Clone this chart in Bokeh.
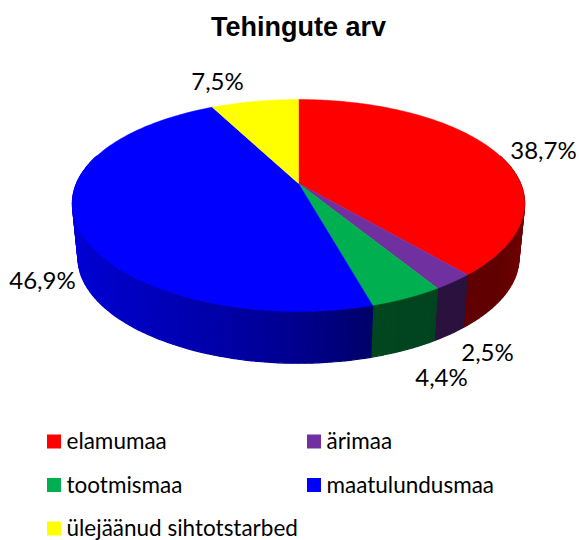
import numpy as np
from bokeh.plotting import figure
from bokeh.models import Range1d
from bokeh.core.properties import value
from bokeh.embed import file_html
from bokeh.resources import INLINE

title = "Tehingute arv"
categories = ["elamumaa", "ärimaa", "tootmismaa", "maatulundusmaa", "ülejäänud sihtotstarbed"]
shares = [38.7, 2.5, 4.4, 46.9, 7.5]
labels = ["38,7%", "2,5%", "4,4%", "46,9%", "7,5%"]
colors = ["#FF0000", "#7030A0", "#00B050", "#0000FF", "#FFFF00"]

# label and legend placement (page pixels)
label_x = [543, 487, 441, 42, 217]
label_y = [149, 351, 376, 279, 80]
legend_col = [0, 1, 0, 1, 0]
legend_row = [0, 0, 1, 1, 2]

# projection of the tilted disc
CX, APEX_TOP, APEX_BOT = 298.0, 183.0, 238.0
KX, KY, B, A = 0.19, 0.2075, 101.4, 222.0
BOT_SCALE = 0.975


def project(theta, bottom=False):
    u, v = np.sin(theta), np.cos(theta)
    x, y = A * u / (1 + KX * v), -B * v / (1 + KY * v)
    if bottom:
        return CX + BOT_SCALE * x, APEX_BOT + BOT_SCALE * y
    return CX + x, APEX_TOP + y


def shade(hex_color, theta):
    f = float(np.interp(np.sin(theta), [-1, -0.5, 0, 0.3, 0.8, 1], [0.85, 0.72, 0.56, 0.40, 0.38, 0.46]))
    r, g, b = (int(hex_color[i:i + 2], 16) for i in (1, 3, 5))
    return "#%02x%02x%02x" % (int(r * f), int(g * f), int(b * f))


p = figure(width=579, height=540, output_backend="svg", toolbar_location=None,
           x_range=Range1d(0, 579), y_range=Range1d(540, 0), min_border=0)
p.axis.visible = False
p.grid.visible = False
p.outline_line_color = None
p.background_fill_color = "#ffffff"

edges = np.concatenate([[0], np.cumsum(shares)]) / sum(shares) * 2 * np.pi

# side wall
sx, sy, sc = [], [], []
for i, col in enumerate(colors):
    n = max(3, int((edges[i + 1] - edges[i]) * 40))
    t = np.linspace(edges[i], edges[i + 1], n + 1)
    for a, b in zip(t[:-1], t[1:]):
        if np.cos((a + b) / 2) > 0.3:
            continue
        x0, y0 = project(a)
        x1, y1 = project(b)
        x2, y2 = project(b, True)
        x3, y3 = project(a, True)
        sx.append([x0, x1, x2, x3])
        sy.append([y0, y1, y2, y3])
        sc.append(shade(col, (a + b) / 2))
p.patches(sx, sy, fill_color=sc, line_color=sc, line_width=1.2)

# top face
for i, col in enumerate(colors):
    t = np.linspace(edges[i], edges[i + 1], 160)
    x, y = project(t)
    p.patch(np.r_[CX, x], np.r_[APEX_TOP, y], fill_color=col, line_color=col, line_width=0.5)

p.text([298], [26], text=[title], text_font=value("Liberation Sans"), text_font_style="bold",
       text_font_size="27px", text_color="#000000", text_align="center", text_baseline="middle")
p.text(label_x, label_y, text=labels, text_font=value("Lato"), text_font_size="24px",
       text_color="#000000", text_align="center", text_baseline="middle")

sq_x = [53.5 + 260 * c for c in legend_col]
txt_x = [66 + 260 * c for c in legend_col]
leg_y = [441 + 43.5 * r for r in legend_row]
txt_y = [y - 1 for y in leg_y]
p.rect(sq_x, leg_y, width=14, height=14, fill_color=colors, line_color=None)
p.text(txt_x, txt_y, text=categories, text_font=value("Lato"), text_font_size="22.5px",
       text_color="#000000", text_align="left", text_baseline="middle")

open("out.html", "w").write(file_html(p, INLINE))
